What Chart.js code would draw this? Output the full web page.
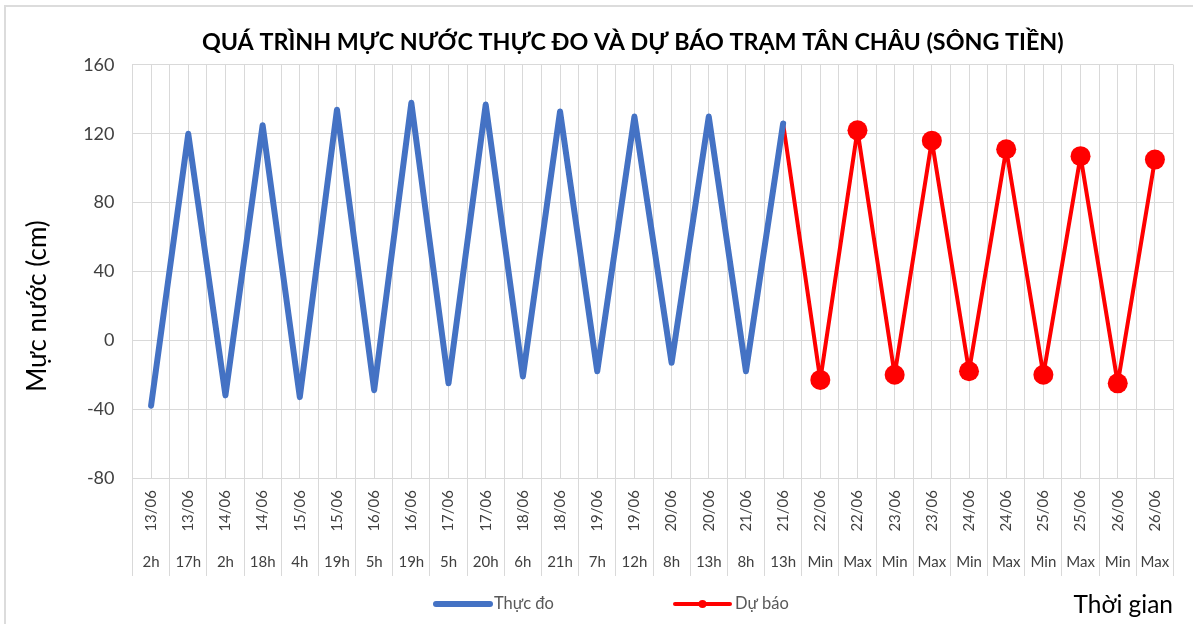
<!DOCTYPE html>
<html><head><meta charset="utf-8">
<script src="https://cdn.jsdelivr.net/npm/chart.js@4.4.0/dist/chart.umd.min.js"></script>
<style>
html,body{margin:0;padding:0;background:#fff;overflow:hidden;}
#wrap{position:relative;width:1193px;height:624px;overflow:hidden;}
#frame{position:absolute;left:4px;top:5px;width:1300px;height:700px;border-left:2px solid #dcdcdc;border-top:2px solid #dcdcdc;}
canvas{position:absolute;left:0;top:0;}
</style></head><body>
<div id="wrap"><div id="frame"></div><canvas id="c" width="1193" height="624"></canvas></div>
<script>
const dates = ['13/06','13/06','14/06','14/06','15/06','15/06','16/06','16/06','17/06','17/06','18/06','18/06','19/06','19/06','20/06','20/06','21/06','21/06','22/06','22/06','23/06','23/06','24/06','24/06','25/06','25/06','26/06','26/06'];
const hours = ['2h','17h','2h','18h','4h','19h','5h','19h','5h','20h','6h','21h','7h','12h','8h','13h','8h','13h','Min','Max','Min','Max','Min','Max','Min','Max','Min','Max'];
const measured = [-38,120,-32,125,-33,134,-29,138,-25,137,-21,133,-18,130,-13,130,-18,126,null,null,null,null,null,null,null,null,null,null];
const forecast = [null,null,null,null,null,null,null,null,null,null,null,null,null,null,null,null,null,126,-23,122,-20,116,-18,111,-20,107,-25,105];
const yTicks = [-80,-40,0,40,80,120,160];
const seriesNames = ['Thực đo','Dự báo'];
const titleText = 'QUÁ TRÌNH MỰC NƯỚC THỰC ĐO VÀ DỰ BÁO TRẠM TÂN CHÂU (SÔNG TIỀN)';
const yTitle = 'Mực nước (cm)';
const xTitle = 'Thời gian';

const FONT = 'Lato';
const GRID = '#d9d9d9';
const TXT = '#404040';

const deco = {
  id: 'deco',
  afterLayout(chart) {
    // Excel centres the title slightly right of the canvas centre
    if (chart.titleBlock) { chart.titleBlock.left += 46; chart.titleBlock.right += 46; }
  },
  afterDraw(chart) {
    const {ctx, chartArea} = chart;
    const x = chart.scales.x, x2 = chart.scales.x2;
    ctx.save();
    // category separators in the axis label area
    ctx.strokeStyle = GRID; ctx.lineWidth = 1;
    for (let i = 0; i <= dates.length; i++) {
      const px = Math.round(x.getPixelForValue(i - 0.5) - 0.5) + 0.5;
      ctx.beginPath(); ctx.moveTo(px, chartArea.bottom); ctx.lineTo(px, x2.bottom); ctx.stroke();
    }
    // y axis title
    ctx.fillStyle = '#000';
    ctx.font = '26px ' + FONT;
    ctx.textAlign = 'center'; ctx.textBaseline = 'middle';
    ctx.save(); ctx.translate(38, 306); ctx.rotate(-Math.PI / 2); ctx.fillText(yTitle, 0, 0); ctx.restore();
    // legend
    const ly = 604;
    const ds = chart.data.datasets;
    const items = [[436, 490, 494], [675, 730, 735]];
    ctx.textAlign = 'left';
    ctx.font = '16.5px ' + FONT;
    items.forEach((it, k) => {
      ctx.strokeStyle = ds[k].borderColor; ctx.lineWidth = ds[k].borderWidth; ctx.lineCap = 'round';
      ctx.beginPath(); ctx.moveTo(it[0], ly); ctx.lineTo(it[1], ly); ctx.stroke();
      if (k === 1) { ctx.fillStyle = ds[k].backgroundColor; ctx.beginPath(); ctx.arc((it[0] + it[1]) / 2, ly, 4, 0, Math.PI * 2); ctx.fill(); }
      ctx.fillStyle = '#595959';
      ctx.fillText(ds[k].label, it[2], ly);
    });
    // x title
    ctx.fillStyle = '#000'; ctx.font = '24.5px ' + FONT; ctx.textAlign = 'right';
    ctx.fillText(xTitle, 1173, 605);
    ctx.restore();
  }
};

new Chart(document.getElementById('c'), {
  type: 'line',
  data: {
    labels: dates,
    datasets: [
      { label: seriesNames[0], data: measured, borderColor: '#4472c4', backgroundColor: '#4472c4', borderWidth: 6,
        pointRadius: 0, pointHoverRadius: 0, borderCapStyle: 'round', borderJoinStyle: 'round', tension: 0, spanGaps: false },
      { label: seriesNames[1], data: forecast, borderColor: '#ff0000', backgroundColor: '#ff0000', borderWidth: 4,
        pointRadius: c => c.dataIndex === 17 ? 0 : 10, pointHoverRadius: c => c.dataIndex === 17 ? 0 : 10,
        pointBorderWidth: 0, borderCapStyle: 'round', borderJoinStyle: 'round', tension: 0, spanGaps: false }
    ]
  },
  options: {
    responsive: false, animation: false, events: [],
    layout: { padding: { left: 0, right: 19.5, top: 0, bottom: 48 } },
    plugins: {
      legend: { display: false },
      tooltip: { enabled: false },
      title: { display: true, text: titleText, color: '#000', font: { family: FONT, size: 23.3, weight: 'bold' },
        padding: { top: 28, bottom: 9 } }
    },
    scales: {
      x: { type: 'category', position: 'bottom', offset: true, weight: 0,
        grid: { offset: true, color: GRID, drawTicks: false, lineWidth: 1 },
        border: { color: GRID },
        ticks: { autoSkip: false, minRotation: 90, maxRotation: 90, padding: 12, color: TXT, font: { family: FONT, size: 15 } },
        afterFit: s => { s.height = 67; } },
      x2: { type: 'category', labels: hours, position: 'bottom', offset: true, weight: 1,
        grid: { offset: false, color: GRID, drawTicks: false, lineWidth: 1 },
        border: { display: false },
        ticks: { autoSkip: false, minRotation: 0, maxRotation: 0, padding: 8, color: TXT, font: { family: FONT, size: 15 } },
        afterFit: s => { s.height = 31; } },
      y: { min: yTicks[0], max: yTicks[yTicks.length - 1],
        ticks: { stepSize: yTicks[1] - yTicks[0], padding: 18, color: TXT, font: { family: FONT, size: 18 } },
        grid: { color: GRID, drawTicks: false },
        border: { color: GRID },
        afterFit: s => { s.width = 132.5; } }
    }
  },
  plugins: [deco]
});
</script>
</body></html>
